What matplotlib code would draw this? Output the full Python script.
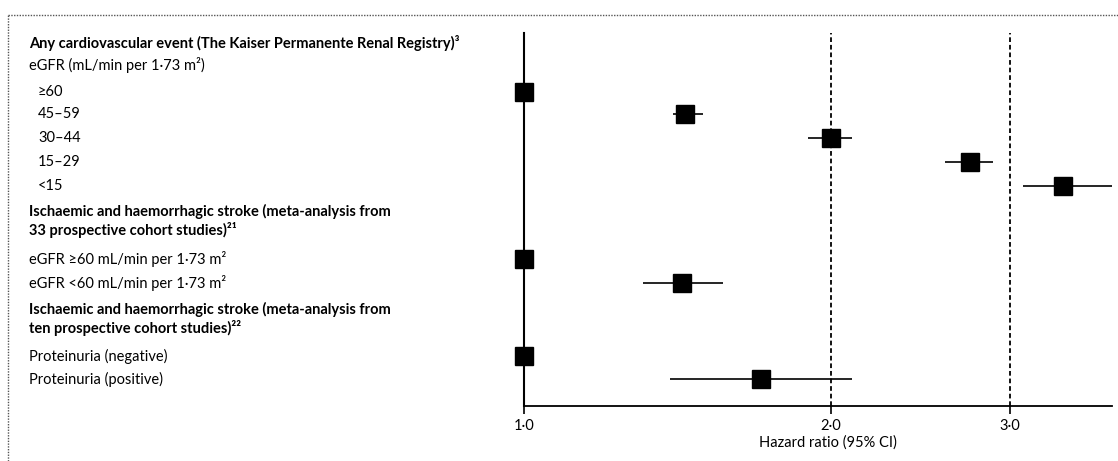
import numpy as np
import matplotlib.pyplot as plt
from matplotlib.lines import Line2D
from matplotlib.transforms import blended_transform_factory

plt.rcParams['font.family'] = ['Lato', 'DejaVu Sans']

# row labels, top to bottom
labels = [
    'Any cardiovascular event (The Kaiser Permanente Renal Registry)\u00b3',
    'eGFR (mL/min per 1\u00b773 m\u00b2)',
    '\u226560',
    '45\u201359',
    '30\u201344',
    '15\u201329',
    '<15',
    'Ischaemic and haemorrhagic stroke (meta-analysis from\n33 prospective cohort studies)\u00b2\u00b9',
    'eGFR \u226560 mL/min per 1\u00b773 m\u00b2',
    'eGFR <60 mL/min per 1\u00b773 m\u00b2',
    'Ischaemic and haemorrhagic stroke (meta-analysis from\nten prospective cohort studies)\u00b2\u00b2',
    'Proteinuria (negative)',
    'Proteinuria (positive)',
]
bold = [True, False, False, False, False, False, False, True, False, False, True, False, False]
indent = [False, False, True, True, True, True, True, False, False, False, False, False, False]

# hazard ratios (None for heading rows)
hr = [None, None, 1.0, 1.44, 2.0, 2.74, 3.38, None, 1.0, 1.43, None, 1.0, 1.71]
lo = [None, None, 1.0, 1.40, 1.90, 2.59, 3.09, None, 1.0, 1.31, None, 1.0, 1.39]
hi = [None, None, 1.0, 1.50, 2.10, 2.89, 3.78, None, 1.0, 1.57, None, 1.0, 2.10]

tick_vals = [1.0, 2.0, 3.0]
tick_labels = ['1\u00b70', '2\u00b70', '3\u00b70']

# vertical layout in pixels from the top of the figure
row_y = [43, 65, 92, 114, 138, 162, 186, 221, 259, 283, 319, 356, 379]

W, H = 1118, 461
fig = plt.figure(figsize=(W / 100, H / 100), dpi=100)
ax = fig.add_axes([524 / W, 1 - 406 / H, (1112 - 524) / W, (406 - 33) / H])
ax.set_xscale('log')
ax.set_xlim(1.0, 3.78)
ax.set_ylim(406, 33)

for y, h, l, u in zip(row_y, hr, lo, hi):
    if h is None:
        continue
    ax.plot([l, u], [y, y], color='black', lw=1.2, solid_capstyle='butt')
    ax.plot(h, y, marker='s', ms=13, color='black', mec='black', zorder=5,
            clip_on=False)

for v in tick_vals[1:]:
    ax.axvline(v, color='black', lw=1.3, dashes=(2.6, 1.6))

for side in ['top', 'right']:
    ax.spines[side].set_visible(False)
ax.spines['left'].set_linewidth(1.5)
ax.spines['bottom'].set_linewidth(1.3)
ax.set_yticks([])
ax.set_xticks(tick_vals)
ax.set_xticklabels(tick_labels)
ax.xaxis.set_minor_locator(plt.NullLocator())
ax.tick_params(axis='x', direction='out', length=6, width=1.2, labelsize=10.5,
               pad=3)
ax.set_xlabel('Hazard ratio (95% CI)', fontsize=10.5)
ax.xaxis.set_label_coords(0.517, -0.08)

trans = blended_transform_factory(fig.transFigure, ax.transData)
for text, y, b, ind in zip(labels, row_y, bold, indent):
    x = (38 if ind else 29) / W
    ax.text(x, y, text, transform=trans, fontsize=10.5, va='center', ha='left',
            fontweight='bold' if b else 'normal', linespacing=1.25,
            clip_on=False)

# dotted frame on the top and left edges
dot = dict(color='#555555', lw=1.0, ls=(0, (1, 1)))
fig.add_artist(Line2D([8 / W, 1], [1 - 15 / H] * 2, transform=fig.transFigure, **dot))
fig.add_artist(Line2D([8 / W] * 2, [0, 1 - 15 / H], transform=fig.transFigure, **dot))

fig.savefig('out.png', dpi=100)
